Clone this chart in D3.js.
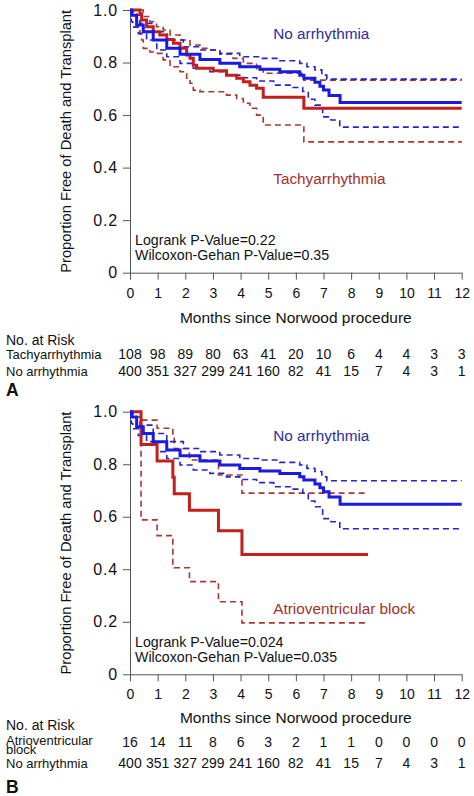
<!DOCTYPE html>
<html>
<head>
<meta charset="utf-8">
<script src="https://cdn.jsdelivr.net/npm/d3@7"></script>
<style>
  html, body { margin: 0; padding: 0; background: #fff; }
  svg { display: block; font-family: "Liberation Sans", Arial, sans-serif; }
</style>
</head>
<body>
<svg id="chart" width="474" height="796"></svg>
<script>
// ---------- data ----------
const xTicks = [0,1,2,3,4,5,6,7,8,9,10,11,12];
const yTicks = [0, 0.2, 0.4, 0.6, 0.8, 1.0];
const yTickLabels = ["0", "0.2", "0.4", "0.6", "0.8", "1.0"];

// No arrhythmia (same cohort in both panels): [month, survival]
const noArrSurv = [[0,1.0],[0.06,0.98],[0.24,0.943],[0.48,0.917],[0.84,0.886],[1.33,0.854],[1.81,0.832],[2.53,0.812],[3.25,0.797],[3.97,0.784],[4.7,0.774],[5.42,0.765],[6.14,0.752],[6.29,0.74],[6.69,0.725],[6.87,0.71],[7.0,0.695],[7.2,0.675],[7.6,0.648],[12,0.648]];
const noArrUpper = [[0,1.0],[0.12,0.98],[0.36,0.949],[0.84,0.917],[1.33,0.886],[1.93,0.86],[2.53,0.848],[3.25,0.835],[3.97,0.822],[4.7,0.816],[5.42,0.807],[6.14,0.797],[6.4,0.784],[6.69,0.772],[6.94,0.752],[7.12,0.737],[12,0.737]];
const noArrLower = [[0,1.0],[0.05,0.955],[0.1,0.935],[0.3,0.91],[0.6,0.886],[0.97,0.848],[1.33,0.822],[1.81,0.797],[2.29,0.778],[2.89,0.765],[3.49,0.752],[3.97,0.742],[4.58,0.73],[5.2,0.714],[5.9,0.705],[6.25,0.69],[6.45,0.66],[6.69,0.638],[6.97,0.593],[7.27,0.581],[7.59,0.554],[12,0.554]];

// Tachyarrhythmia (panel A)
const tachySurv = [[0,1.0],[0.36,0.985],[0.42,0.962],[0.6,0.936],[0.84,0.917],[1.08,0.905],[1.33,0.888],[1.57,0.873],[1.81,0.854],[2.05,0.829],[2.17,0.816],[2.29,0.79],[2.41,0.778],[3.01,0.769],[3.49,0.752],[3.86,0.74],[4.1,0.727],[4.34,0.714],[4.58,0.702],[4.82,0.668],[6.29,0.626],[12,0.626]];
const tachyUpper = [[0,1.0],[0.48,0.975],[0.72,0.955],[0.96,0.936],[1.2,0.924],[1.45,0.905],[1.81,0.886],[2.17,0.867],[2.53,0.854],[2.89,0.848],[3.25,0.832],[3.73,0.816],[4.1,0.797],[4.58,0.772],[4.82,0.759],[6.29,0.733],[12,0.733]];
const tachyLower = [[0,1.0],[0.24,0.962],[0.36,0.91],[0.42,0.886],[0.48,0.854],[0.72,0.84],[0.96,0.835],[1.2,0.81],[1.45,0.784],[1.81,0.765],[2.05,0.74],[2.17,0.721],[2.29,0.695],[2.53,0.689],[3.49,0.676],[3.86,0.663],[4.1,0.645],[4.34,0.626],[4.58,0.60],[4.82,0.562],[6.29,0.498],[12,0.498]];

// Atrioventricular block (panel B)
const avbSurv = [[0,1.0],[0.4,0.875],[0.98,0.8125],[1.55,0.75],[1.6,0.6875],[2.15,0.625],[3.2,0.547],[4.05,0.456],[8.61,0.456]];
const avbUpper = [[0,1.0],[0.4,0.968],[0.98,0.937],[1.55,0.899],[1.6,0.86],[2.15,0.816],[3.2,0.759],[4.05,0.69],[8.61,0.69]];
const avbLower = [[0,1.0],[0.4,0.588],[0.98,0.528],[1.55,0.42],[1.6,0.406],[2.15,0.353],[3.2,0.276],[4.05,0.196],[8.61,0.196]];

// Numbers at risk
const riskTachy = [108, 98, 89, 80, 63, 41, 20, 10, 6, 4, 4, 3, 3];
const riskAvb   = [16, 14, 11, 8, 6, 3, 2, 1, 1, 0, 0, 0, 0];
const riskNoArr = [400, 351, 327, 299, 241, 160, 82, 41, 15, 7, 4, 3, 1];

// ---------- drawing ----------
const svg = d3.select("#chart");
const BLUE = "#1a1ae0", BLUE_D = "#2525cc", RED = "#c21f1d", RED_D = "#a8382f";
const BLUE_T = "#2c2c9e", RED_T = "#a3302b", AXIS = "#555";

function panel(cfg) {
  const g = svg.append("g");
  const x = d3.scaleLinear().domain([0, 12]).range([130, 461.7]);
  const y = d3.scaleLinear().domain([0, 1]).range([cfg.y0, cfg.y1]);

  // y axis
  const ya = g.append("g").attr("transform", "translate(130,0)")
    .call(d3.axisLeft(y).tickValues(yTicks).tickSize(7).tickSizeOuter(0).tickPadding(5)
      .tickFormat((d, i) => yTickLabels[i]));
  ya.selectAll("path,line").attr("stroke", AXIS);
  ya.selectAll("text").attr("font-size", 16).attr("fill", "#111")
    .attr("font-family", "Liberation Sans, Arial, sans-serif")
    .attr("letter-spacing", "0.8px");

  // x axis
  const xa = g.append("g").attr("transform", `translate(0,${cfg.y0})`)
    .call(d3.axisBottom(x).tickValues(xTicks).tickSize(7).tickSizeOuter(0).tickPadding(8)
      .tickFormat(d3.format("d")));
  xa.selectAll("path,line").attr("stroke", AXIS);
  xa.selectAll("text").attr("font-size", 14).attr("fill", "#111")
    .attr("font-family", "Liberation Sans, Arial, sans-serif");

  // y title
  g.append("text")
    .attr("transform", `translate(70.7,${(cfg.y0 + cfg.y1) / 2}) rotate(-90)`)
    .attr("text-anchor", "middle").attr("font-size", 14.7).attr("fill", "#111")
    .text("Proportion Free of Death and Transplant");

  // x title
  g.append("text").attr("x", 295.8).attr("y", cfg.xTitleY)
    .attr("text-anchor", "middle").attr("font-size", 15.5).attr("fill", "#111")
    .text("Months since Norwood procedure");

  const line = d3.line().x(d => x(d[0])).y(d => y(d[1])).curve(d3.curveStepAfter);
  const draw = (data, color, w, dash) => g.append("path").datum(data)
    .attr("d", line).attr("fill", "none").attr("stroke", color)
    .attr("stroke-width", w).attr("stroke-dasharray", dash || null);

  draw(cfg.grpUpper, RED_D, 1.6, "6,4");
  draw(cfg.grpLower, RED_D, 1.6, "6,4");
  draw(noArrUpper, BLUE_D, 1.6, "6,4");
  draw(noArrLower, BLUE_D, 1.6, "6,4");
  draw(cfg.grpSurv, RED, 3);
  draw(noArrSurv, BLUE, 3);

  // labels
  g.append("text").attr("x", 273.3).attr("y", cfg.y1 + 29.3)
    .attr("font-size", 15.3).attr("fill", BLUE_T).text("No arrhythmia");
  g.append("text").attr("x", 273.3).attr("y", cfg.grpLabelY)
    .attr("font-size", 15.3).attr("fill", RED_T).text(cfg.grpLabel);

  g.append("text").attr("x", 135).attr("y", cfg.y0 - 27.5)
    .attr("font-size", 14.2).attr("fill", "#111").text(cfg.p1);
  g.append("text").attr("x", 135).attr("y", cfg.y0 - 12.5)
    .attr("font-size", 14.2).attr("fill", "#111").text(cfg.p2);

  // risk table
  g.append("text").attr("x", 6).attr("y", cfg.riskHeadY)
    .attr("font-size", 14).attr("fill", "#111").text("No. at Risk");
  cfg.grpRowLabel.forEach((t, i) => {
    g.append("text").attr("x", 6).attr("y", cfg.grpLabelRowY + i * 9.5)
      .attr("font-size", 13).attr("fill", "#111").text(t);
  });
  g.append("text").attr("x", 6).attr("y", cfg.noArrRowY)
    .attr("font-size", 13).attr("fill", "#111").text("No arrhythmia");
  g.selectAll(null).data(cfg.grpRisk).enter().append("text")
    .attr("x", (d, i) => x(xTicks[i])).attr("y", cfg.grpRowY)
    .attr("text-anchor", "middle").attr("font-size", 14).attr("fill", "#111").text(d => d);
  g.selectAll(null).data(riskNoArr).enter().append("text")
    .attr("x", (d, i) => x(xTicks[i])).attr("y", cfg.noArrRowY)
    .attr("text-anchor", "middle").attr("font-size", 14).attr("fill", "#111").text(d => d);

  g.append("text").attr("x", 6).attr("y", cfg.letterY)
    .attr("font-size", 17.5).attr("font-weight", "bold").attr("fill", "#111").text(cfg.letter);
}

panel({
  y0: 272.7, y1: 10,
  grpSurv: tachySurv, grpUpper: tachyUpper, grpLower: tachyLower,
  grpLabel: "Tachyarrhythmia", grpLabelY: 184,
  p1: "Logrank P-Value=0.22", p2: "Wilcoxon-Gehan P-Value=0.35",
  xTitleY: 323, riskHeadY: 344.5,
  grpRowLabel: ["Tachyarrhythmia"], grpLabelRowY: 358.5, grpRowY: 358.5, grpRisk: riskTachy,
  noArrRowY: 375.5, letter: "A", letterY: 395.5
});

panel({
  y0: 674.3, y1: 411.7,
  grpSurv: avbSurv, grpUpper: avbUpper, grpLower: avbLower,
  grpLabel: "Atrioventricular block", grpLabelY: 614.3,
  p1: "Logrank P-Value=0.024", p2: "Wilcoxon-Gehan P-Value=0.035",
  xTitleY: 722.7, riskHeadY: 730,
  grpRowLabel: ["Atrioventricular", "block"], grpLabelRowY: 744.5, grpRowY: 746.7, grpRisk: riskAvb,
  noArrRowY: 768, letter: "B", letterY: 792.5
});
</script>
</body>
</html>
